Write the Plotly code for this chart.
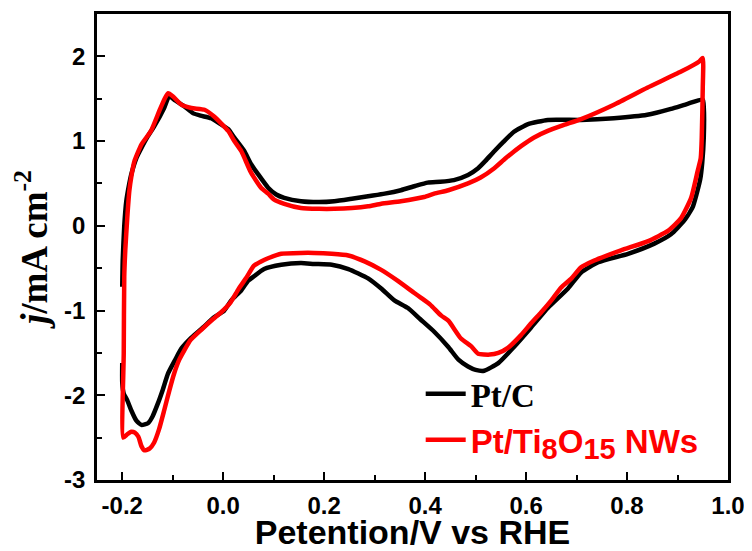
import plotly.graph_objects as go

# Pt/C cyclic voltammogram (potential V vs RHE, current density mA cm^-2)
ptc_x = [-0.200, -0.199, -0.196, -0.192, -0.186, -0.182, -0.172, -0.162, -0.150, -0.137,
         -0.117, -0.107, -0.095, -0.077, -0.060, -0.045, -0.024, -0.005, 0.010, 0.022,
         0.042, 0.055, 0.069, 0.089, 0.105, 0.121, 0.154, 0.190, 0.220, 0.255,
         0.287, 0.320, 0.352, 0.380, 0.405, 0.430, 0.457, 0.485, 0.505, 0.520,
         0.537, 0.555, 0.576, 0.604, 0.643, 0.709, 0.774, 0.840, 0.887, 0.920,
         0.950,
         0.952, 0.952, 0.949, 0.945, 0.938, 0.930, 0.913, 0.887, 0.854, 0.802,
         0.743, 0.709, 0.683, 0.643, 0.610, 0.576, 0.545, 0.517, 0.500, 0.485,
         0.466, 0.446, 0.418, 0.390, 0.366, 0.339, 0.313, 0.287, 0.248, 0.215,
         0.180, 0.154, 0.115, 0.081, 0.060, 0.049, 0.036, 0.016, 0.002, -0.018,
         -0.040, -0.063, -0.083, -0.095, -0.109, -0.120, -0.129, -0.140, -0.149, -0.162,
         -0.172, -0.182, -0.190, -0.197, -0.200, -0.200]
ptc_y = [-0.72, -0.40, 0.00, 0.29, 0.50, 0.61, 0.80, 0.92, 1.05, 1.17,
         1.39, 1.53, 1.48, 1.41, 1.33, 1.30, 1.27, 1.20, 1.14, 1.04,
         0.88, 0.73, 0.61, 0.45, 0.37, 0.33, 0.29, 0.28, 0.29, 0.32,
         0.35, 0.38, 0.42, 0.47, 0.51, 0.52, 0.54, 0.60, 0.68, 0.77,
         0.88, 0.99, 1.11, 1.20, 1.25, 1.25, 1.27, 1.31, 1.38, 1.44,
         1.49,
         1.40, 1.04, 0.75, 0.55, 0.38, 0.22, 0.06, -0.10, -0.21, -0.33,
         -0.43, -0.55, -0.74, -0.97, -1.20, -1.43, -1.62, -1.71, -1.70, -1.66,
         -1.58, -1.43, -1.25, -1.10, -0.97, -0.88, -0.74, -0.62, -0.51, -0.46,
         -0.45, -0.44, -0.46, -0.51, -0.60, -0.65, -0.76, -0.88, -1.00, -1.08,
         -1.20, -1.32, -1.45, -1.58, -1.74, -1.94, -2.09, -2.25, -2.33, -2.35,
         -2.30, -2.18, -2.06, -1.98, -1.85, -1.62]

# Pt/Ti8O15 NWs cyclic voltammogram
pti_x = [-0.198, -0.197, -0.196, -0.194, -0.190, -0.186, -0.182, -0.176, -0.162, -0.143,
         -0.127, -0.116, -0.109, -0.100, -0.083, -0.063, -0.037, -0.018, 0.010, 0.022,
         0.036, 0.055, 0.075, 0.089, 0.101, 0.121, 0.154, 0.190, 0.220, 0.255,
         0.287, 0.313, 0.352, 0.398, 0.418, 0.446, 0.485, 0.510, 0.537, 0.560,
         0.590, 0.615, 0.643, 0.675, 0.709, 0.774, 0.840, 0.907, 0.943, 0.950,
         0.950, 0.948, 0.946, 0.940, 0.927, 0.907, 0.881, 0.842, 0.788, 0.735,
         0.709, 0.690, 0.669, 0.650, 0.630, 0.610, 0.590, 0.564, 0.545, 0.528,
         0.505, 0.491, 0.471, 0.446, 0.432, 0.410, 0.392, 0.378, 0.346, 0.313,
         0.280, 0.248, 0.215, 0.180, 0.154, 0.115, 0.090, 0.075, 0.061, 0.045,
         0.030, 0.015, -0.004, -0.020, -0.044, -0.065, -0.077, -0.087, -0.097, -0.107,
         -0.117, -0.127, -0.137, -0.146, -0.156, -0.162, -0.168, -0.175, -0.182, -0.190,
         -0.198]
pti_y = [-2.50, -1.50, -0.60, -0.29, 0.10, 0.41, 0.58, 0.76, 0.96, 1.12,
         1.35, 1.50, 1.565, 1.53, 1.43, 1.39, 1.37, 1.29, 1.12, 1.00,
         0.88, 0.63, 0.45, 0.38, 0.31, 0.26, 0.21, 0.20, 0.20, 0.21,
         0.23, 0.26, 0.29, 0.34, 0.38, 0.42, 0.50, 0.57, 0.68, 0.80,
         0.94, 1.04, 1.12, 1.19, 1.26, 1.43, 1.63, 1.82, 1.94, 1.98,
         1.63, 1.04, 0.80, 0.65, 0.33, 0.09, -0.06, -0.18, -0.29, -0.41,
         -0.49, -0.62, -0.73, -0.88, -1.02, -1.15, -1.29, -1.44, -1.50, -1.52,
         -1.51, -1.42, -1.33, -1.12, -1.06, -0.93, -0.85, -0.79, -0.65, -0.52,
         -0.42, -0.35, -0.33, -0.32, -0.32, -0.33, -0.38, -0.42, -0.47, -0.62,
         -0.75, -0.90, -1.02, -1.10, -1.23, -1.35, -1.47, -1.58, -1.74, -1.95,
         -2.18, -2.40, -2.56, -2.63, -2.65, -2.60, -2.49, -2.44, -2.43, -2.46,
         -2.50]

x_ticks = [-0.2, 0.0, 0.2, 0.4, 0.6, 0.8, 1.0]
x_tick_labels = ["-0.2", "0.0", "0.2", "0.4", "0.6", "0.8", "1.0"]
y_ticks = [-3, -2, -1, 0, 1, 2]
y_tick_labels = ["-3", "-2", "-1", "0", "1", "2"]

SANS = "Liberation Sans, Arial, sans-serif"
SERIF = "Liberation Serif, Times New Roman, serif"

fig = go.Figure()
fig.add_trace(go.Scatter(
    x=ptc_x, y=ptc_y, mode="lines",
    line=dict(color="#000000", width=4.5, shape="spline", smoothing=0.5),
    name='<span style="font-family:Liberation Serif;color:#000000">Pt/C</span>',
))
fig.add_trace(go.Scatter(
    x=pti_x, y=pti_y, mode="lines",
    line=dict(color="#ff0000", width=4.5, shape="spline", smoothing=0.5),
    name=('<span style="color:#ff0000">Pt/Ti<sub><span style="font-size:29px">8</span></sub>'
          'O<sub><span style="font-size:29px">15</span></sub> NWs</span>'),
))

axis_common = dict(
    showgrid=False, zeroline=False, showline=True, linecolor="black", linewidth=2.5,
    mirror=True, ticks="inside", tickcolor="black", tickwidth=2, ticklen=8,
    tickfont=dict(family=SANS, size=24, color="black", weight="bold"),
)

fig.update_xaxes(
    range=[-0.25, 1.0], tickvals=x_ticks, ticktext=x_tick_labels,
    minor=dict(dtick=0.1, tick0=0, ticks="inside", ticklen=5, tickwidth=2, tickcolor="black"),
    title=dict(text="Petention/V vs RHE", standoff=10,
               font=dict(family=SANS, size=34, color="black", weight="bold")),
    ticklabelstandoff=2,
    **axis_common,
)
fig.update_yaxes(
    range=[-3, 2.5], tickvals=y_ticks, ticktext=y_tick_labels,
    minor=dict(dtick=0.5, tick0=0, ticks="inside", ticklen=5, tickwidth=2, tickcolor="black"),
    title=dict(text="<i>j</i>/mA cm<sup>-2</sup>", standoff=6,
               font=dict(family=SERIF, size=37, color="black", weight="bold")),
    ticklabelstandoff=4,
    **axis_common,
)

# page body adds an 8px offset, so the figure is sized 8px smaller on each leading edge
fig.update_layout(
    width=744, height=543,
    margin=dict(l=89, r=24, t=6, b=71, autoexpand=False),
    paper_bgcolor="white", plot_bgcolor="white",
    showlegend=True,
    legend=dict(
        x=0.513, y=0.245, xanchor="left", yanchor="top",
        bgcolor="rgba(0,0,0,0)", borderwidth=0,
        font=dict(family=SANS, size=33, color="black", weight="bold"),
        tracegroupgap=0, itemwidth=40,
    ),
)

fig.write_html("out.html")
